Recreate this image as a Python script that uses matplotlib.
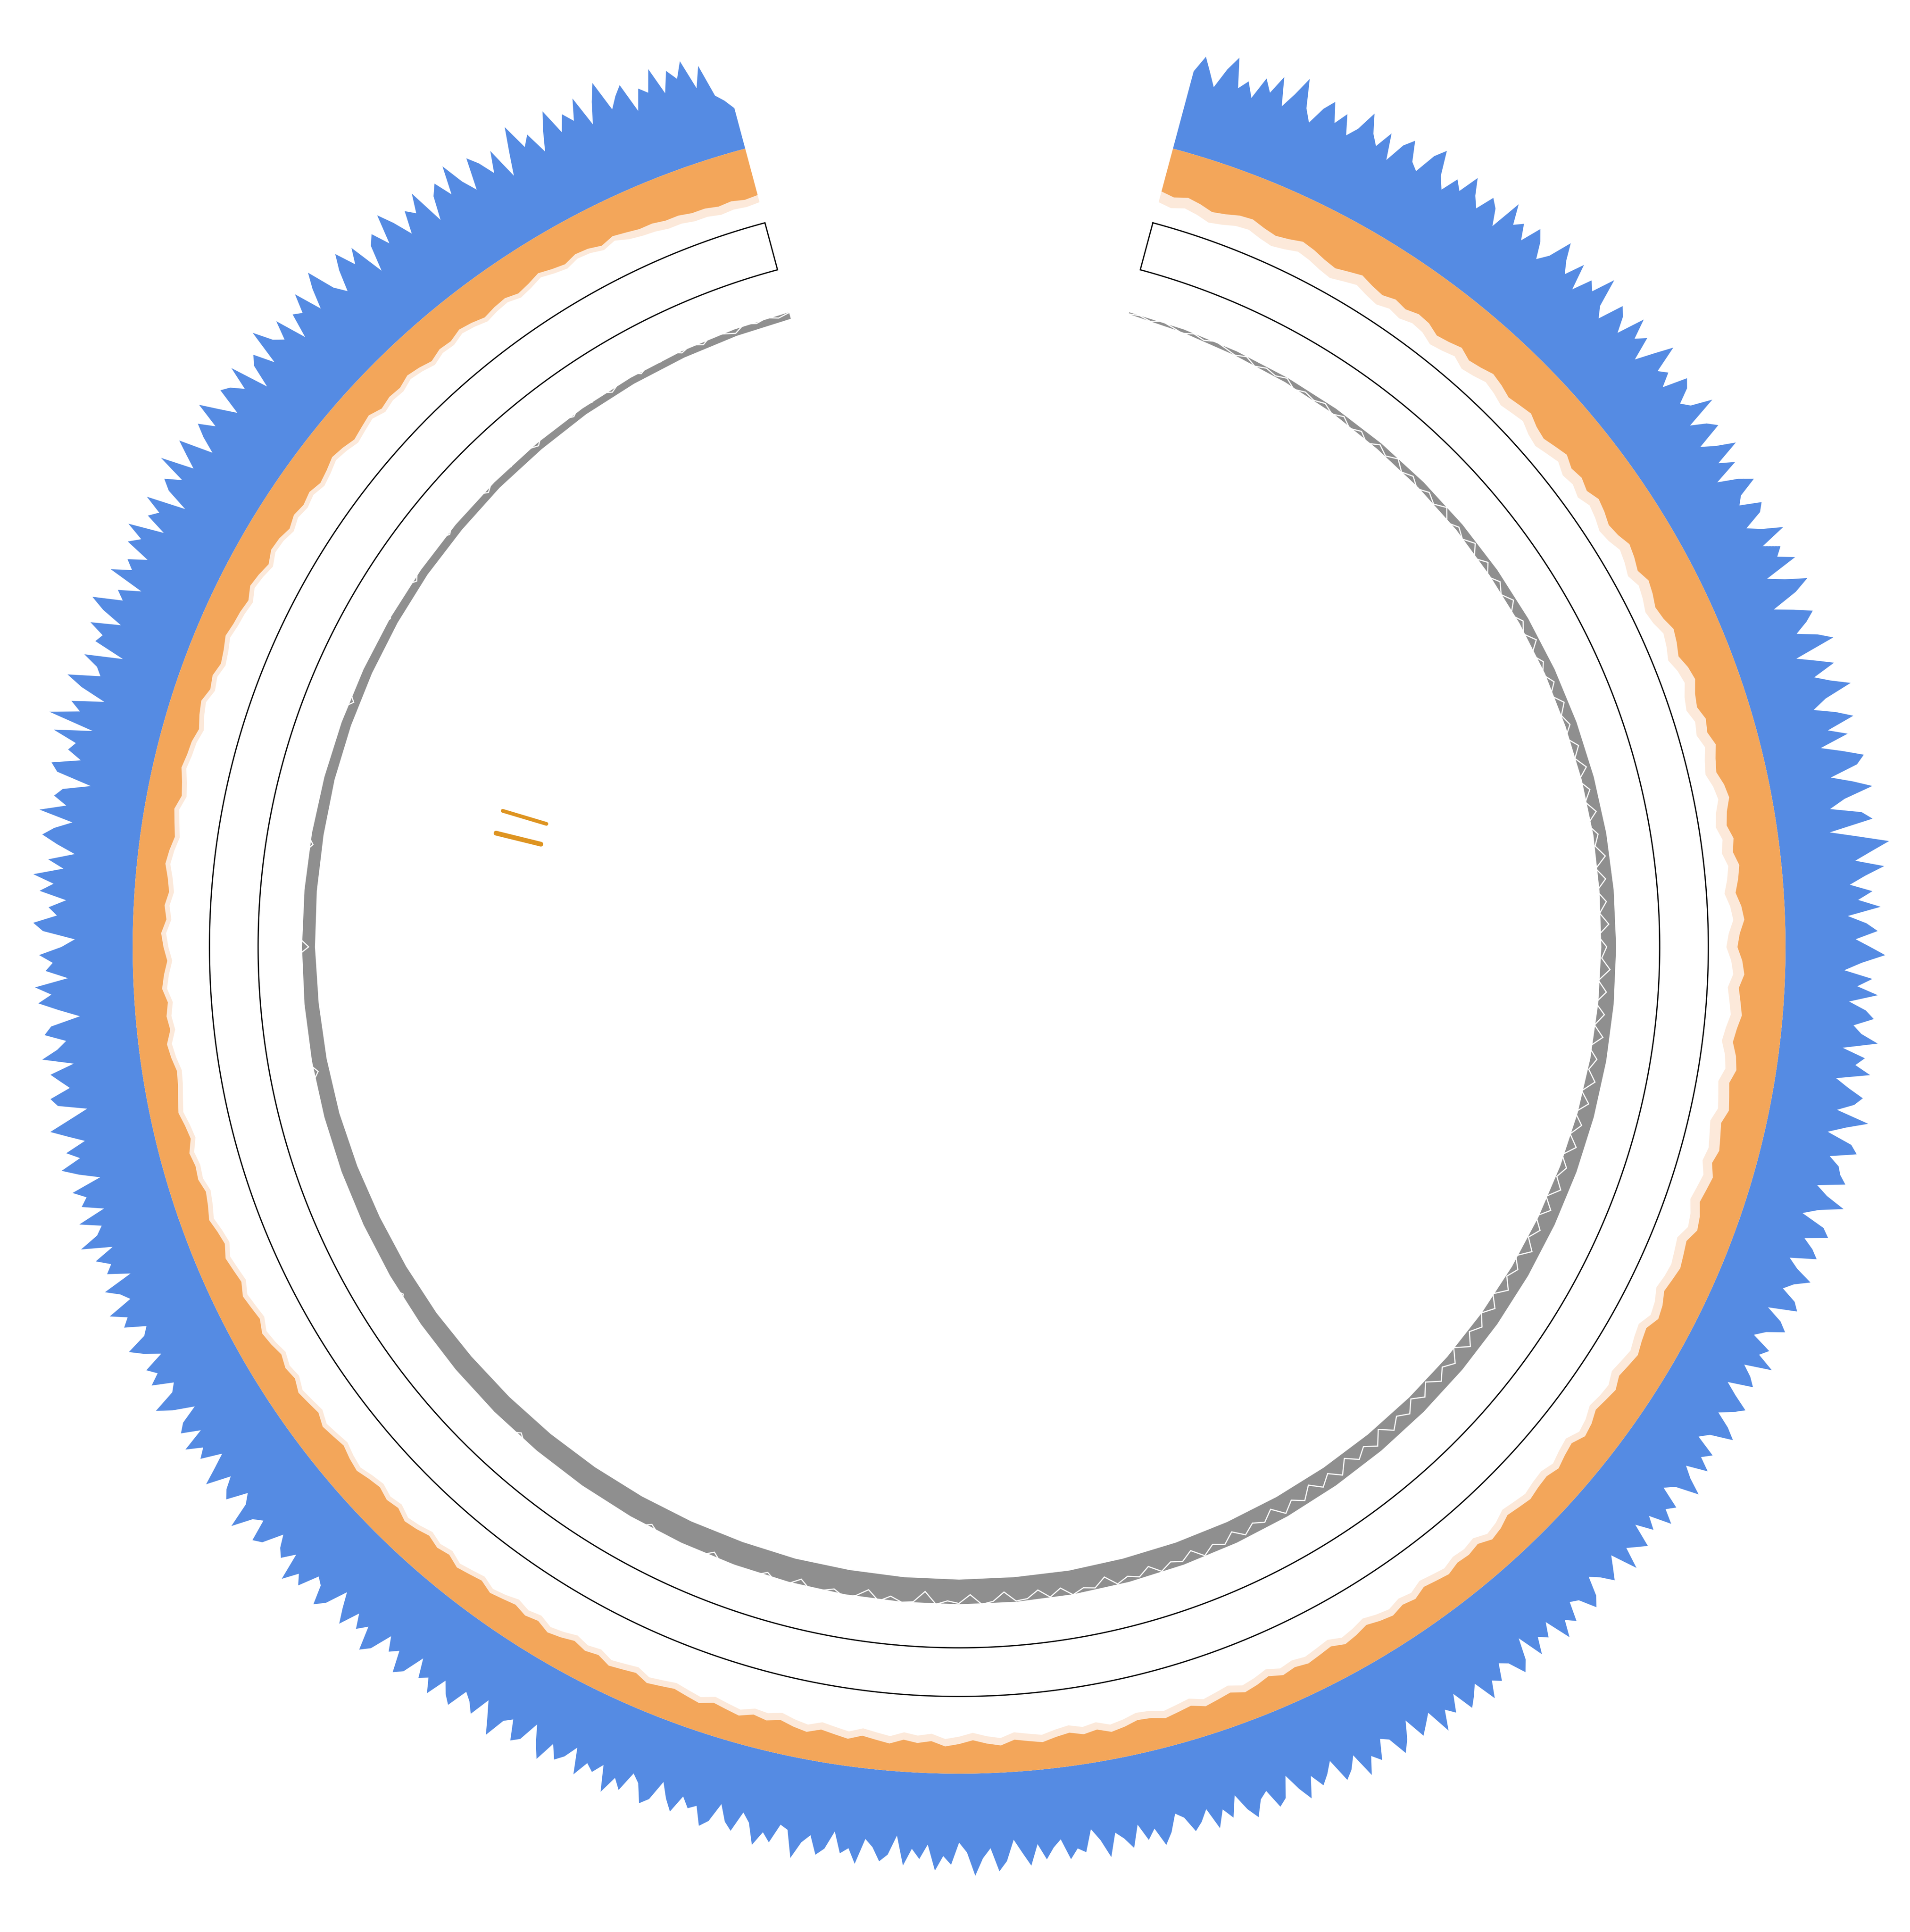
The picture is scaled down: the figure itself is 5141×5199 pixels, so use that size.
import numpy as np
import matplotlib
matplotlib.use("Agg")
import matplotlib.pyplot as plt

# ---------------- data (radii in track units) ----------------
start_deg = 15
end_deg = 345

# outer (blue) track, one value every 0.5 degree
blue_top = [
736,750,739,728,745,757,733,741,729,748,738,754,731,744,760,737,727,742,751,735,
746,730,739,756,741,733,748,727,744,752,736,731,749,758,738,729,743,736,753,740,
732,747,741,728,755,739,745,733,750,742,729,738,757,744,735,751,730,746,740,759,
736,728,749,743,731,754,738,746,727,742,757,735,741,730,750,745,733,739,756,729,
741,748,726,737,752,731,743,722,738,749,733,728,745,740,724,735,751,729,742,736,
749,721,734,751,738,716,731,745,737,726,742,753,719,733,747,728,740,755,732,720,
737,750,727,742,718,735,751,744,721,738,753,729,716,741,749,713,736,760,745,731,
754,738,725,743,731,749,722,737,746,728,740,752,733,719,742,730,747,724,738,745,
729,736,750,722,741,734,747,720,731,744,738,725,752,735,721,742,748,727,736,739,
745,723,733,749,730,718,738,744,726,735,741,720,729,743,731,724,737,742,719,733,
740,726,718,735,729,744,722,731,737,717,728,741,733,723,736,745,727,720,738,731,
742,725,734,747,728,721,739,733,744,726,736,722,741,735,729,746,724,732,740,730,
723,738,745,731,727,742,735,748,726,737,731,744,722,739,747,733,728,741,736,749,
730,738,745,727,741,734,750,729,736,743,725,739,748,732,728,744,737,751,730,740,
746,726,735,742,731,748,737,723,740,745,729,734,747,738,724,741,732,746,728,737,
743,730,725,739,748,733,741,727,745,736,730,749,734,724,742,738,746,729,735,744,
731,748,737,726,743,751,732,740,754,735,727,745,738,750,729,741,733,747,723,739,
745,734,728,749,737,742,725,740,746,731,738,752,730,727,743,736,748,731,724,741,
735,722,738,744,729,733,725,740,731,719,736,742,727,721,738,730,745,724,733,728,
741,720,731,737,726,743,732,718,735,740,724,729,746,733,721,738,730,725,742,736,
727,744,733,738,723,741,747,730,736,725,743,750,731,739,728,745,734,722,740,748,
733,729,746,739,752,730,741,736,727,744,749,732,738,755,735,728,745,740,731,751,
738,726,743,736,749,730,745,739,724,741,753,734,729,746,737,744,727,740,750,733,
728,745,739,752,731,737,748,723,741,735,746,729,754,738,732,749,726,743,737,747,
722,738,751,734,744,727,740,753,736,720,743,748,731,738,745,725,750,737,729,746,
740,716,733,749,738,751,724,742,736,747,729,718,744,752,733,740,726,748,737,754,
730,743,722,737,750,741,727,755,734,745,739,717,746,752,729,741,736,756,725,763,
739,748,722,743,757,731,736,749,718,744,740,753,729,747,759,735,742,724,754,738,
745,730,751,742,757,728,746,739,754,722,741,749,736,760,733,744,755,727,740,750,
737,758,743,729,751,746,736,755,723,742,748,731,760,744,737,752,726,746,741,756,
733,749,761,738,728,745,757,740,752,722,743,750,735,759,746,730,748,741,756,725,
744,752,737,760,741,729,755,746,733,750,723,742,761,739,747,728,744,758,736,749,
740,757,731,748,762,736,745,752,727,744,738,756,733,750,741,754,729,746,719,713,
705]

# inner edge of the orange track, one value per degree
orange_inner = [
635,633,636,634,631,633,636,637,634,632,
634,637,635,632,630,633,636,633,631,634,
632,635,634,630,632,635,631,633,636,634,
631,633,635,631,629,632,635,631,633,630,
634,632,629,631,635,633,630,634,632,629,
631,635,633,630,634,636,632,630,634,632,
636,633,631,635,637,633,631,635,633,637,
635,632,636,638,634,632,636,638,634,636,
638,635,633,637,639,635,637,639,635,637,
639,636,640,638,636,640,642,637,639,641,
639,637,641,643,638,640,643,641,639,643,
641,639,643,645,640,642,645,642,643,645,
643,641,645,647,642,644,643,646,644,642,
646,644,647,645,642,645,647,643,645,647,
645,647,643,646,648,644,646,648,644,646,
648,645,644,647,649,645,647,644,646,649,
647,645,649,647,644,647,649,645,647,645,
649,647,645,649,647,645,649,647,644,647,
645,649,647,645,649,647,645,647,649,645,
647,649,645,647,644,647,649,645,647,644,
646,648,644,646,648,644,646,643,646,648,
644,646,643,645,648,646,643,645,647,643,
645,647,643,645,642,645,647,643,645,647,
643,645,647,643,645,648,645,643,646,645,
647,643,645,648,646,644,643,646,648,644,
646,644,648,646,643,646,648,644,646,643,
645,648,646,643,645,647,643,645,648,646,
645,642,645,647,643,645,642,644,647,645,
644,642,646,644,641,645,644,641,644,642,
644,641,643,646,644,641,643,645,641,643,
642,645,643,640,643,642,645,643,640,642,
643,640,642,645,642,640,643,642,639,642,
640,638,638,636,636,634,634,632,633,631,
632]

# inner edge of the light band under the orange track, one value per degree
peach_inner = [
626,624,627,625,622,624,627,628,625,623,
625,628,626,623,621,624,627,624,622,625,
623,626,625,621,623,626,622,624,627,625,
622,624,626,622,620,623,626,622,624,621,
625,623,620,622,626,624,621,625,623,620,
622,626,624,621,625,627,623,621,625,623,
627,624,622,626,628,624,622,626,624,628,
626,623,627,629,625,623,627,629,625,627,
629,626,624,628,630,626,628,630,626,628,
630,628,632,630,628,632,634,629,631,633,
632,630,634,636,631,633,636,634,632,636,
635,633,637,639,634,636,639,636,637,639,
637,635,639,641,636,638,637,640,638,636,
640,638,641,639,636,639,641,637,639,641,
639,641,637,640,642,638,640,642,638,640,
642,639,638,641,643,639,641,638,640,643,
641,639,643,641,638,641,643,639,641,639,
643,641,639,643,641,639,643,641,638,641,
640,644,642,640,644,642,640,642,644,640,
642,644,640,642,639,642,644,640,642,639,
642,644,640,642,644,640,642,639,642,644,
640,642,639,641,644,642,639,641,643,639,
641,643,639,641,638,641,643,639,641,643,
639,641,643,639,641,644,641,639,642,641,
643,639,641,644,642,640,639,642,644,640,
642,640,644,642,639,642,644,640,642,639,
641,644,642,639,641,643,639,641,644,642,
641,638,641,643,639,641,638,640,643,641,
640,638,642,640,637,641,640,637,640,638,
640,637,639,642,640,637,639,641,637,639,
638,641,639,636,639,638,641,639,636,638,
639,636,638,641,638,636,639,638,635,638,
634,632,631,629,629,627,627,625,626,625,
626]

# gray band: smooth inner edge every 5 degrees, fixed outer edge
gray_deg = list(range(15, 346, 5))
gray_inner = [
532,531,530,529.5,529,528,527.5,527,526,525.5,
525,524,523.5,523,522,521.5,521,520.5,520,519.5,
519,518.5,518,517.5,517,516.5,516,515.5,515,514.5,
514,514,513.5,513.5,513.5,513.5,514,514,514.5,515,
515.5,516,516.5,517,518,518.5,519,520,521,521.5,
522,523,523.5,524,525,525.5,526,526.5,527,527,
527.5,527.5,528,528,528,528,528]
gray_outer = 533.5

# white line inside the gray track, one value per degree
white_line = [
532,533,531,534,532,530,533,531,534,532,
530,533,529,532,530,533,528,531,529,532,
528,532,527,531,526,532,528,533,527,531,
526,531,527,533,525,530,526,532,524,531,
524,530,525,531,523,529,524,531,522,528,
523,529,522,530,524,528,521,529,523,530,
521,528,522,529,520,527,523,530,521,528,
520,527,521,528,519,526,522,529,520,527,
519,527,520,528,518,526,521,528,519,527,
518,526,519,527,518,525,520,527,518,526,
517,525,519,527,517,524,519,526,517,525,
518,525,519,527,517,526,520,527,518,526,
519,527,521,528,519,529,522,528,520,530,
522,529,521,530,524,531,522,529,525,531,
524,531,527,533,525,531,528,533,526,532,
529,533,525,532,530,534,527,533,526,532,
533,525,532,534,526,533,531,534,524,533,
534,530,535,527,533,536,531,534,536,529,
535,537,531,536,538,534,537,530,536,538,
535,538,536,531,537,539,535,538,536,539,
537,534,538,540,536,539,537,531,538,540,
537,539,536,540,538,535,539,537,540,536,
539,537,540,532,538,539,537,540,538,536,
539,537,540,538,535,539,537,540,538,539,
536,539,540,537,530,538,536,539,537,540,
538,535,539,537,540,528,538,536,539,537,
540,538,536,539,531,538,540,537,539,538,
536,539,537,540,538,535,539,530,538,537,
539,536,538,540,537,533,539,536,538,531,
537,539,535,538,532,537,539,534,538,531,
536,538,533,537,535,531,538,534,536,532,
537,533,536,531,535,538,532,536,533,537,
532,535,531,536,533,530,535,532,534,531,
533]

blue_base = 671
frame_inner, frame_outer = 569, 608.5

link_deg = [286.6, 283.8]
link_r0 = [349.5, 349.5]
link_r1 = [386.5, 387.0]
link_width = [7.2, 9.2]

# ---------------- drawing ----------------
W, H, DPI = 5141, 5199, 100
fig = plt.figure(figsize=(W / DPI, H / DPI), dpi=DPI)
fig.patch.set_facecolor("white")

cx, cy = 2581, 5199 - 2548
scale = 3.315
RMAX = 770
rad_px = RMAX * scale
ax = fig.add_axes([(cx - rad_px) / W, (cy - rad_px) / H, 2 * rad_px / W, 2 * rad_px / H],
                  projection="polar")
ax.set_theta_zero_location("N")
ax.set_theta_direction(-1)
ax.set_ylim(0, RMAX)
ax.set_axis_off()

deg = np.arange(start_deg, end_deg + 1)
th = np.deg2rad(deg)
th_half = np.deg2rad(np.linspace(start_deg, end_deg, len(blue_top)))

BLUE = "#558BE3"
ORANGE = "#F3A65A"
PEACH = "#FCE9DA"
GRAY = "#8F8F8F"

ax.fill_between(th_half, blue_base, blue_top, color=BLUE, lw=0)
ax.fill_between(th, np.asarray(peach_inner), blue_base, color=PEACH, lw=0)
ax.fill_between(th, np.asarray(orange_inner), blue_base, color=ORANGE, lw=0)

# outlined empty track
fine = np.deg2rad(np.linspace(start_deg, end_deg, 1200))
frame_th = np.concatenate([fine, fine[::-1], fine[:1]])
frame_r = np.concatenate([np.full(fine.size, frame_outer), np.full(fine.size, frame_inner),
                          [frame_outer]])
ax.plot(frame_th, frame_r, color="black", lw=2.4, solid_joinstyle="miter")

# gray band + white line
gth = np.deg2rad(gray_deg)
ax.fill_between(gth, np.asarray(gray_inner), gray_outer, color=GRAY, lw=0)
ax.plot(th, white_line, color="white", lw=2.2, solid_joinstyle="miter")

# short radial links
for d, r0, r1, w in zip(link_deg, link_r0, link_r1, link_width):
    ax.plot([np.deg2rad(d)] * 2, [r0, r1], color="#DE9421", lw=w, solid_capstyle="round")

fig.savefig("out.png", dpi=DPI, facecolor="white")
